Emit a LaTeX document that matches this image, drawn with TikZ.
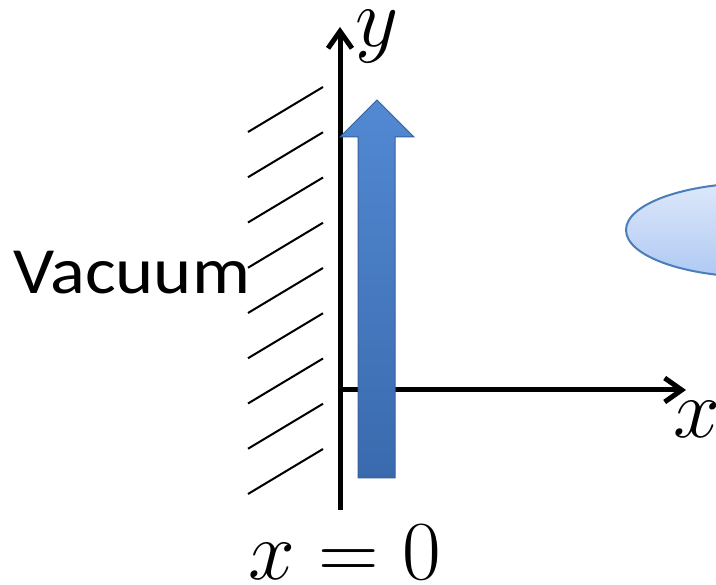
\documentclass[tikz,border=0pt]{standalone}
\usepackage{fontspec}
\newfontfamily\calibri{Carlito}
\usetikzlibrary{arrows.meta,shapes.geometric}
\definecolor{arrowtop}{HTML}{5289D2}
\definecolor{arrowbot}{HTML}{3A6AAE}
\definecolor{arrowedge}{HTML}{35609E}
\definecolor{elltop}{HTML}{DDE8FA}
\definecolor{ellbot}{HTML}{AFC9F3}
\definecolor{elledge}{HTML}{4A7EBB}
\tikzset{
  axis/.style={line width=5pt,-{Straight Barb[length=17pt,width=24pt,line width=5pt]}},
  hatch/.style={line width=2pt},
  mathlbl/.style={inner sep=0pt,font=\Huge,scale=3.376},
}
\begin{document}
\begin{tikzpicture}[x=1pt,y=-1pt]
\useasboundingbox (0,0) rectangle (716,585);
\clip (0,0) rectangle (716,585);
% ellipse
\node[ellipse,draw=elledge,line width=2pt,top color=elltop,bottom color=ellbot,
  minimum width=262pt,minimum height=94pt,inner sep=0pt] (ell) at (757,230) {};
% hatch lines
\foreach \k in {0,...,8}{
  \draw[hatch] (248,132+45.25*\k) -- (323,87+45.25*\k);
}
% axes
\coordinate (o) at (340,390);
\coordinate (ybot) at (340,510);
\coordinate (ytop) at (340,27);
\coordinate (xend) at (686,390);
\draw[axis] (ybot) -- (ytop);
\draw[axis] (o) -- (xend);
% blue arrow
\draw[arrowedge,line width=1pt,top color=arrowtop,bottom color=arrowbot]
  (358,478) -- (358,137) -- (340,137) -- (377,100) -- (414,137) -- (395,137) -- (395,478) -- cycle;
% labels
\node[mathlbl,anchor=base west] (ylbl) at (355,47) {$y$};
\node[mathlbl,anchor=base west] (xlbl) at (673,438) {$x$};
\node[mathlbl,anchor=base west] (x0) at (248,580) {$x=0$};
\node[inner sep=0pt,anchor=base west,xscale=1.1,font=\calibri\fontsize{66}{66}\selectfont] (vac) at (13,294) {Vacuum};
\end{tikzpicture}
\end{document}
